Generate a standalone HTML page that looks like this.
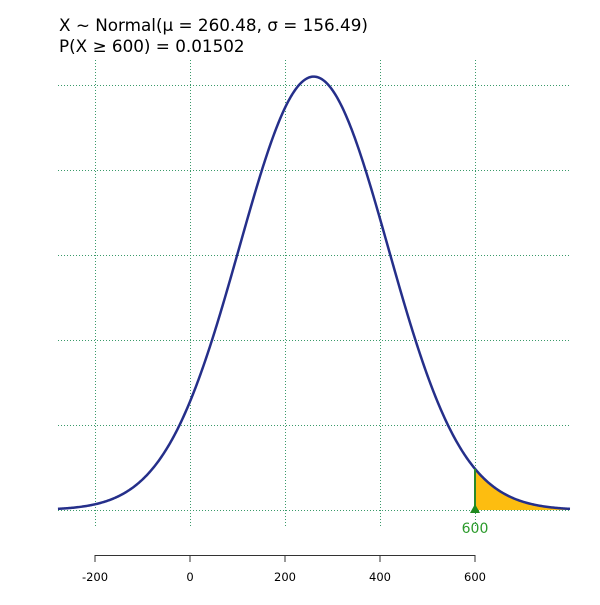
<!DOCTYPE html>
<html><head><meta charset="utf-8"><style>
body{margin:0;background:#fff}
svg text{font-family:"DejaVu Sans","Liberation Sans",sans-serif}
</style></head><body>
<svg id="chart" width="600" height="600">
<text x="59" y="31" font-size="16.8">X ~ Normal(μ = 260.48, σ = 156.49)</text>
<text x="59" y="52" font-size="16.8">P(X ≥ 600) = 0.01502</text>
<g id="grid"></g>
<path id="tail" fill="#fdbd10"/>
<path id="curve" fill="none" stroke="#252f8a" stroke-width="2.5"/>
<g id="marker"></g>
<g id="axis"></g>
</svg>
<script>
const mu = 260.48;
const sigma = 156.49;
const threshold = 600;
const xTicks = [-200, 0, 200, 400, 600];
const yGrid = [0, 0.0005, 0.001, 0.0015, 0.002, 0.0025];
const xMin = -278, xMax = 800;
const sx = v => 190 + v * 0.475;
const sy = v => 510 - v * 170000;
const pdf = x => Math.exp(-0.5 * ((x - mu) / sigma) ** 2) / (sigma * Math.sqrt(2 * Math.PI));
const NS = "http://www.w3.org/2000/svg";
function mk(tag, attrs, parent) { const e = document.createElementNS(NS, tag); for (const k in attrs) e.setAttribute(k, attrs[k]); parent.appendChild(e); return e; }
const grid = document.getElementById('grid');
yGrid.forEach(v => {
  const l = mk('line', {x1: 58, x2: 570, y1: sy(v) + 0.5, y2: sy(v) + 0.5, stroke: '#3a9a6a', 'stroke-dasharray': '1,2', 'stroke-width': 1}, grid);
  
  
});
xTicks.forEach(v => {
  const l = mk('line', {x1: sx(v) + 0.5, x2: sx(v) + 0.5, y1: 60, y2: 527, stroke: '#3a9a6a', 'stroke-dasharray': '1,2', 'stroke-width': 1}, grid);
  
  
});
let d = '';
for (let x = xMin; x <= xMax; x += 2) d += (d ? 'L' : 'M') + sx(x).toFixed(2) + ',' + sy(pdf(x)).toFixed(2);
document.getElementById('curve').setAttribute('d', d);
let t = 'M' + sx(threshold) + ',' + sy(0);
for (let x = threshold; x <= xMax; x += 2) t += 'L' + sx(x).toFixed(2) + ',' + sy(pdf(x)).toFixed(2);
t += 'L' + sx(xMax) + ',' + sy(0) + 'Z';
document.getElementById('tail').setAttribute('d', t);
const m = document.getElementById('marker');
mk('line', {x1: sx(threshold), x2: sx(threshold), y1: sy(0), y2: sy(pdf(threshold)), stroke: '#2a8a2a', 'stroke-width': 2}, m);
const tri = mk('polygon', {points: `${sx(threshold)-5},${sy(0)+3} ${sx(threshold)+5},${sy(0)+3} ${sx(threshold)},${sy(0)-6}`, fill: '#1f8a1f'}, m);


const ml = mk('text', {x: sx(threshold), y: sy(0) + 23, 'font-size': 14, fill: '#2a9a2a', 'text-anchor': 'middle'}, m);
ml.textContent = threshold;


const ax = document.getElementById('axis');
mk('line', {x1: sx(xTicks[0]), x2: sx(xTicks[xTicks.length-1]), y1: 555.5, y2: 555.5, stroke: '#333', 'stroke-width': 1}, ax);
xTicks.forEach(v => {
  mk('line', {x1: sx(v), x2: sx(v), y1: 555, y2: 562, stroke: '#333', 'stroke-width': 1}, ax);
  const tx = mk('text', {x: sx(v), y: 581, 'font-size': 11.5, 'text-anchor': 'middle'}, ax);
  tx.textContent = v;
  
  
});
</script>
</body></html>
